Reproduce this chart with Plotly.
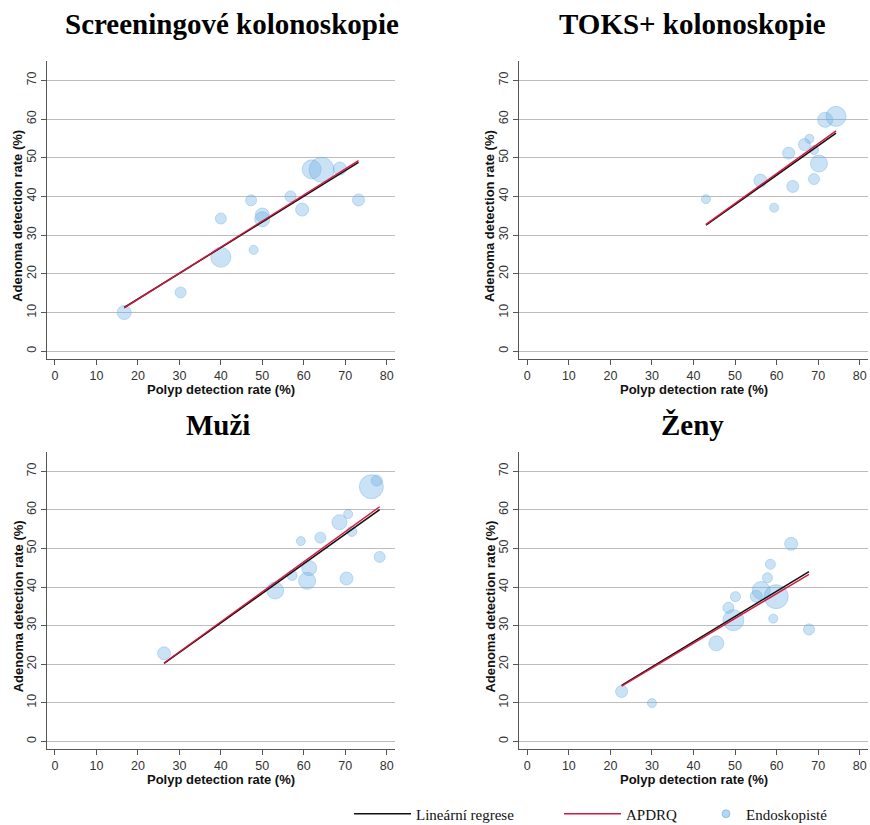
import plotly.graph_objects as go

# ---------------- data ----------------
panel_titles = ["Screeningové kolonoskopie", "TOKS+ kolonoskopie", "Muži", "Ženy"]

scr_pdr = [16.7, 30.3, 40.0, 40.0, 47.3, 47.9, 50.0, 50.0, 56.8, 59.6, 61.9, 64.3, 68.7, 73.2]
scr_adr = [10.0, 15.2, 24.3, 34.3, 39.0, 26.2, 35.2, 34.1, 40.0, 36.6, 47.0, 46.9, 47.2, 39.1]
scr_w = [196, 121, 400, 121, 121, 81, 196, 225, 121, 169, 361, 625, 169, 144]

toks_pdr = [43.0, 56.1, 59.4, 62.9, 63.9, 66.7, 67.9, 69.0, 69.0, 70.2, 71.7, 74.3]
toks_adr = [39.3, 44.1, 37.1, 51.2, 42.6, 53.4, 54.9, 52.0, 44.5, 48.5, 59.8, 60.7]
toks_w = [81, 169, 81, 144, 144, 144, 81, 81, 121, 289, 225, 400]

muzi_pdr = [26.3, 53.1, 57.2, 59.3, 60.8, 61.3, 64.0, 68.6, 70.3, 70.7, 71.6, 76.3, 77.6, 78.3]
muzi_adr = [22.8, 39.1, 43.0, 51.9, 41.6, 44.9, 52.8, 56.8, 42.2, 58.9, 54.4, 66.0, 67.6, 47.8]
muzi_w = [169, 289, 100, 81, 289, 225, 121, 225, 169, 81, 100, 576, 121, 121]

zeny_pdr = [22.7, 30.0, 45.5, 48.4, 49.6, 50.1, 55.1, 56.3, 57.8, 58.5, 59.2, 59.9, 63.5, 67.8]
zeny_adr = [12.9, 9.9, 25.4, 34.6, 31.4, 37.5, 37.6, 39.1, 42.4, 45.9, 31.8, 37.5, 51.2, 29.0]
zeny_w = [144, 81, 225, 121, 441, 100, 144, 324, 100, 100, 81, 576, 169, 121]

# regression fits: (intercept, slope)
lin_intercept = [0.21, -0.04, 0.03, -0.35]
lin_slope = [0.664, 0.759, 0.767, 0.654]
apdrq_intercept = [-0.06, -0.40, -0.19, -0.30]
apdrq_slope = [0.674, 0.772, 0.779, 0.643]

x_ticks = [0, 10, 20, 30, 40, 50, 60, 70, 80]
y_ticks = [0, 10, 20, 30, 40, 50, 60, 70]

legend_labels = ["Lineární regrese", "APDRQ", "Endoskopisté"]

# ---------------- styling ----------------
W, H = 870, 825
BLUE_FILL = "rgba(105,175,228,0.50)"
BLUE_LINE = "rgba(95,165,222,0.55)"
BLACK = "#111111"
RED = "#d4183f"
SANS = "Liberation Sans, Arial, sans-serif"
SERIF = "Liberation Serif, Times New Roman, serif"

panels = [
    (scr_pdr, scr_adr, scr_w),
    (toks_pdr, toks_adr, toks_w),
    (muzi_pdr, muzi_adr, muzi_w),
    (zeny_pdr, zeny_adr, zeny_w),
]

# pixel boxes: (left, right, top, bottom)
boxes = [
    (46.7, 395.0, 61.0, 359.0),
    (519.0, 868.0, 61.0, 359.0),
    (46.7, 395.0, 452.0, 749.0),
    (519.0, 868.0, 452.0, 749.0),
]
title_pos = [(232, 24), (692, 24), (218, 425), (692, 425)]

fig = go.Figure()

for i, ((px, py, pw), (l, r, t, b)) in enumerate(zip(panels, boxes)):
    n = "" if i == 0 else str(i + 1)
    xa, ya = "x" + n, "y" + n
    xmin, xmax = min(px), max(px)
    xs = [xmin, xmax]
    fig.add_trace(go.Scatter(
        x=px, y=py, mode="markers", xaxis=xa, yaxis=ya, showlegend=False,
        marker=dict(size=pw, sizemode="area", sizeref=2, color=BLUE_FILL,
                    line=dict(color=BLUE_LINE, width=1)),
        hoverinfo="x+y"))
    fig.add_trace(go.Scatter(
        x=xs, y=[lin_intercept[i] + lin_slope[i] * v for v in xs], mode="lines",
        xaxis=xa, yaxis=ya, line=dict(color=BLACK, width=1.6),
        name=legend_labels[0], showlegend=(i == 0), legend="legend"))
    fig.add_trace(go.Scatter(
        x=xs, y=[apdrq_intercept[i] + apdrq_slope[i] * v for v in xs], mode="lines",
        xaxis=xa, yaxis=ya, line=dict(color=RED, width=1.4),
        name=legend_labels[1], showlegend=(i == 0), legend="legend2"))

    axis_common = dict(showline=True, linecolor="#555555", linewidth=1,
                       ticks="outside", ticklen=5, tickcolor="#555555",
                       tickfont=dict(family=SANS, size=12.5, color="#333333"),
                       zeroline=False, fixedrange=True, automargin=False)
    fig.update_layout(**{
        ("xaxis" + n): dict(domain=[l / W, r / W], range=[-2, 82], anchor=ya,
                            tickvals=x_ticks, showgrid=False, **axis_common),
        ("yaxis" + n): dict(domain=[(H - b) / H, (H - t) / H], range=[-2, 75], anchor=xa,
                            tickvals=y_ticks, tickangle=-90, showgrid=True,
                            gridcolor="#bdbdbd", gridwidth=1, **axis_common),
    })
    # panel title
    tx, ty = title_pos[i]
    fig.add_annotation(text="<b>" + panel_titles[i] + "</b>", x=tx / W, y=(H - ty) / H,
                       xref="paper", yref="paper", xanchor="center", yanchor="middle",
                       showarrow=False, font=dict(family=SERIF, size=29, color="#000000"))
    # axis titles
    fig.add_annotation(text="<b>Polyp detection rate (%)</b>", x=40, xref=xa,
                       y=(H - (b + 30)) / H, yref="paper", xanchor="center", yanchor="middle",
                       showarrow=False, font=dict(family=SANS, size=13, color="#111111"))
    fig.add_annotation(text="<b>Adenoma detection rate (%)</b>", x=(18 + (l - 46.7)) / W,
                       xref="paper", y=35, yref=ya, xanchor="center", yanchor="middle",
                       textangle=-90, showarrow=False,
                       font=dict(family=SANS, size=13, color="#111111"))

# legend-only marker trace
fig.add_trace(go.Scatter(x=[None], y=[None], mode="markers", name=legend_labels[2],
                         marker=dict(size=8, color=BLUE_FILL, line=dict(color=BLUE_LINE, width=1)),
                         legend="legend3", showlegend=True))

leg_common = dict(orientation="h", yanchor="middle", y=(H - 814) / H, xanchor="left",
                  font=dict(family=SERIF, size=15, color="#111111"),
                  bgcolor="rgba(0,0,0,0)", tracegroupgap=0)
fig.update_layout(
    width=W, height=H,
    margin=dict(l=0, r=0, t=0, b=0, autoexpand=False),
    paper_bgcolor="white", plot_bgcolor="white",
    legend=dict(x=349 / W, itemwidth=57, **leg_common),
    legend2=dict(x=559 / W, itemwidth=57, **leg_common),
    legend3=dict(x=706 / W, itemwidth=30, **leg_common),
)

fig.write_html("out.html", config={"displayModeBar": False},
               post_script="document.body.style.margin='0';document.body.style.overflow='hidden';")
